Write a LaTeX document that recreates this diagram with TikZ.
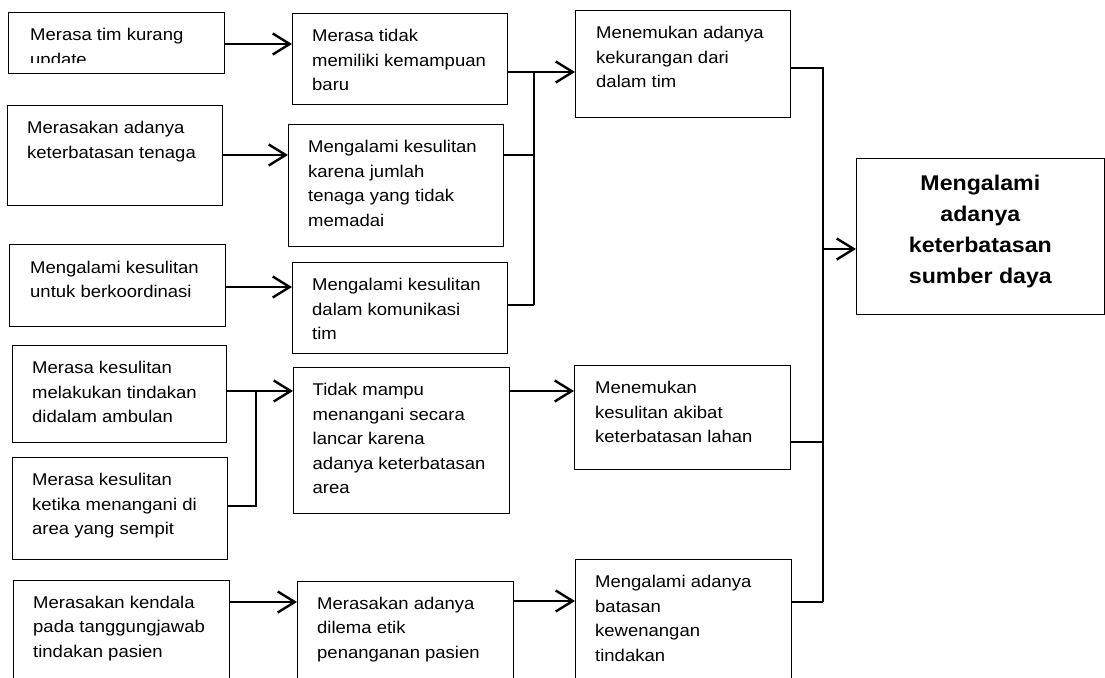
\documentclass[tikz,border=0pt]{standalone}
\usepackage{fontspec}
\setmainfont{Liberation Sans}[FakeStretch=1.088]
\usetikzlibrary{arrows.meta,calc}

% text blocks: left-aligned lines whose baseline is the first line
\newcommand{\lines}[1]{\fontsize{17}{24.6}\selectfont\begin{tabular}[t]{@{}l@{}}#1\end{tabular}}
\newcommand{\boldlines}[1]{\fontsize{21.3}{31}\selectfont\bfseries\begin{tabular}[t]{@{}c@{}}#1\end{tabular}}

\begin{document}
\begin{tikzpicture}[x=1pt,y=-1pt,
  box/.style={draw=black, line width=1.2pt, rectangle, inner sep=0pt, anchor=north west},
  txt/.style={anchor=base west, inner sep=0pt},
  arr/.style={line width=2.4pt, -{Straight Barb[length=17pt,width=21pt]}},
  thickline/.style={line width=2.4pt},
  thinline/.style={line width=1.4pt},
  midline/.style={line width=1.9pt}]

\useasboundingbox (0,0) rectangle (1105,677);
\fill[white] (0,0) rectangle (1105,677);
\clip (0,0) rectangle (1105,677);

% ---- boxes ----
\node[box, minimum width=216pt, minimum height=61pt]  (a1) at (8,12)   {};
\node[box, minimum width=215pt, minimum height=91pt]  (b1) at (292,13) {};
\node[box, minimum width=215pt, minimum height=107pt] (d1) at (575,10) {};
\node[box, minimum width=215pt, minimum height=100pt] (a2) at (7,105)  {};
\node[box, minimum width=215pt, minimum height=122pt] (b2) at (288,124) {};
\node[box, minimum width=216pt, minimum height=82pt]  (a3) at (9,244)  {};
\node[box, minimum width=215pt, minimum height=91pt]  (b3) at (292,262) {};
\node[box, minimum width=214pt, minimum height=97pt]  (a4) at (12,345) {};
\node[box, minimum width=216pt, minimum height=146pt] (c)  at (293,367) {};
\node[box, minimum width=216pt, minimum height=104pt] (d2) at (574,365) {};
\node[box, minimum width=215pt, minimum height=102pt] (a5) at (12,457) {};
\node[box, minimum width=216pt, minimum height=130pt] (a6) at (13,580) {};
\node[box, minimum width=216pt, minimum height=130pt] (b6) at (297,581) {};
\node[box, minimum width=216pt, minimum height=150pt] (d3) at (575,559) {};
\node[box, minimum width=247.5pt, minimum height=156pt] (e) at (856,158) {};

% ---- texts ----
\begin{scope}
  \clip (a1.north west) rectangle ([yshift=-51pt]a1.north east);
  \node[txt] (a1t) at ([shift={(22pt,-29pt)}]a1.north west) {\lines{Merasa tim kurang\\update}};
\end{scope}
\node[txt] (b1t) at ([shift={(20pt,-28.5pt)}]b1.north west) {\lines{Merasa tidak\\memiliki kemampuan\\baru}};
\node[txt] (d1t) at ([shift={(21pt,-28.5pt)}]d1.north west) {\lines{Menemukan adanya\\kekurangan dari\\dalam tim}};
\node[txt] (a2t) at ([shift={(20pt,-28.5pt)}]a2.north west) {\lines{Merasakan adanya\\keterbatasan tenaga}};
\node[txt] (b2t) at ([shift={(20pt,-28.5pt)}]b2.north west) {\lines{Mengalami kesulitan\\karena jumlah\\tenaga yang tidak\\memadai}};
\node[txt] (a3t) at ([shift={(21pt,-29pt)}]a3.north west) {\lines{Mengalami kesulitan\\untuk berkoordinasi}};
\node[txt] (b3t) at ([shift={(20pt,-28.5pt)}]b3.north west) {\lines{Mengalami kesulitan\\dalam komunikasi\\tim}};
\node[txt] (a4t) at ([shift={(20pt,-28.5pt)}]a4.north west) {\lines{Merasa kesulitan\\melakukan tindakan\\didalam ambulan}};
\node[txt] (ct)  at ([shift={(19.5pt,-28.5pt)}]c.north west) {\lines{Tidak mampu\\menangani secara\\lancar karena\\adanya keterbatasan\\area}};
\node[txt] (d2t) at ([shift={(21pt,-28.5pt)}]d2.north west) {\lines{Menemukan\\kesulitan akibat\\keterbatasan lahan}};
\node[txt] (a5t) at ([shift={(20pt,-28.5pt)}]a5.north west) {\lines{Merasa kesulitan\\ketika menangani di\\area yang sempit}};
\node[txt] (a6t) at ([shift={(20pt,-28pt)}]a6.north west) {\lines{Merasakan kendala\\pada tanggungjawab\\tindakan pasien}};
\node[txt] (b6t) at ([shift={(20pt,-28pt)}]b6.north west) {\lines{Merasakan adanya\\dilema etik\\penanganan pasien}};
\node[txt] (d3t) at ([shift={(20pt,-28.5pt)}]d3.north west) {\lines{Mengalami adanya\\batasan\\kewenangan\\tindakan}};
\node[anchor=base, inner sep=0pt] (et) at ([yshift=-32pt]e.north) {\boldlines{Mengalami\\adanya\\keterbatasan\\sumber daya}};

% ---- junction points ----
\coordinate (j1) at (534,72);
\coordinate (j3) at (534,305);
\coordinate (k1) at (256,506);
\coordinate (k2) at (256,391);
\coordinate (m1) at (823,68);
\coordinate (m2) at (823,249);
\coordinate (m3) at (823,602);

% ---- first column to second column ----
\draw[arr] ([yshift=-32pt]a1.north east) -- ([yshift=-32pt]a1.north east -| b1.west);
\draw[arr] ([yshift=-50pt]a2.north east) -- ([yshift=-50pt]a2.north east -| b2.west);
\draw[arr] ([yshift=-43pt]a3.north east) -- ([yshift=-43pt]a3.north east -| b3.west);
\draw[arr] ([yshift=-46pt]a4.north east) -- ([yshift=-46pt]a4.north east -| c.west);
\draw[midline] ([yshift=-49pt]a5.north east) -- (k1) -- (k2);
\draw[arr] ([yshift=-22pt]a6.north east) -- ([yshift=-22pt]a6.north east -| b6.west);

% ---- second column to third column ----
\draw[arr] ([yshift=-59pt]b1.north east) -- ([yshift=-59pt]b1.north east -| d1.west);
\draw[thickline] (j1) -- (j3);
\draw[thinline] ([yshift=-31pt]b2.north east) -- ([yshift=-31pt]b2.north east -| j1);
\draw[midline] ([yshift=-43pt]b3.north east) -- (j3);
\draw[arr] ([yshift=-24pt]c.north east) -- ([yshift=-24pt]c.north east -| d2.west);
\draw[arr] ([yshift=-20pt]b6.north east) -- ([yshift=-20pt]b6.north east -| d3.west);

% ---- third column to the result ----
\draw[thickline] ([yshift=-58pt]d1.north east) -- (m1) -- (m3);
\draw[thinline] ([yshift=-77pt]d2.north east) -- ([yshift=-77pt]d2.north east -| m1);
\draw[midline] ([yshift=-43pt]d3.north east) -- (m3);
\draw[arr] (m2) -- (m2 -| e.west);

\end{tikzpicture}
\end{document}
